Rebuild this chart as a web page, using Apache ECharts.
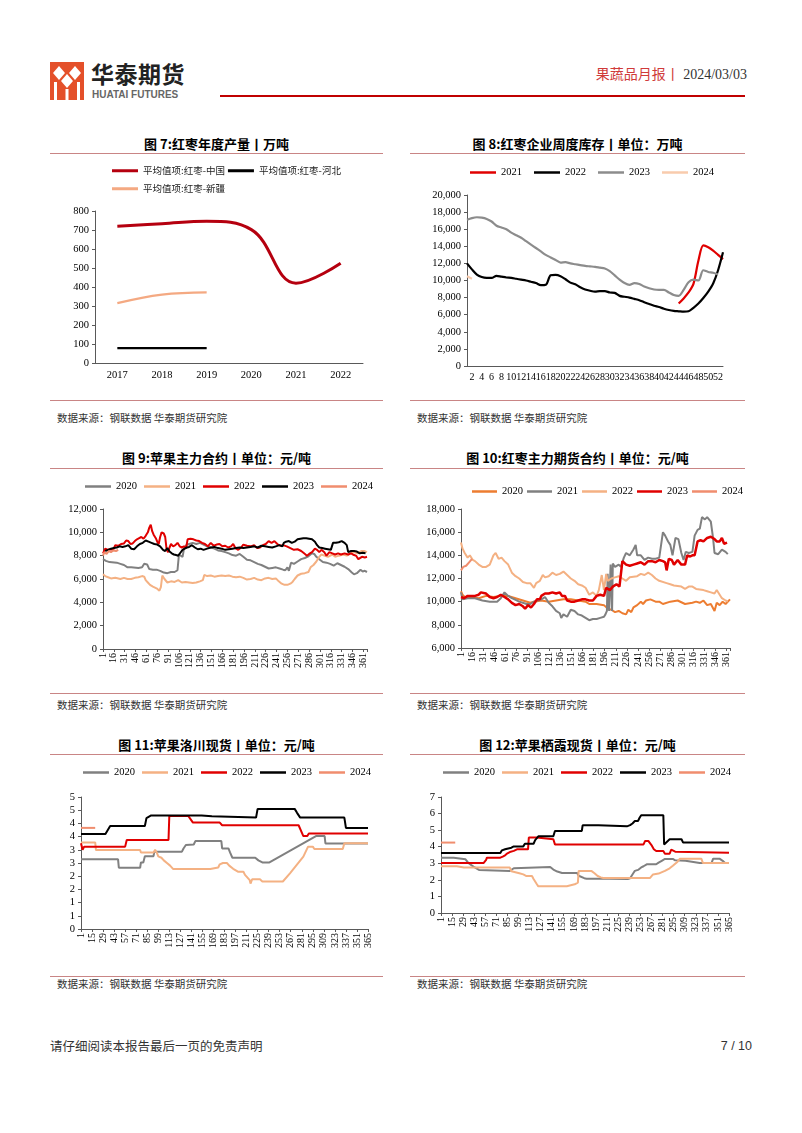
<!DOCTYPE html>
<html><head><meta charset="utf-8">
<script src="https://cdn.jsdelivr.net/npm/echarts/dist/echarts.min.js"></script>
<style>
body{margin:0;width:802px;height:1133px;position:relative;background:#fff;font-family:'Noto Sans CJK SC',sans-serif;overflow:hidden}
.title{position:absolute;font-weight:bold;font-size:13px;color:#000;text-align:center;line-height:16px;width:335px}
.rule{position:absolute;height:1px;background:#c98585}
.src{position:absolute;font-size:10.5px;color:#333;line-height:14px}
.chart{position:absolute}
</style></head><body>
<!-- header -->
<svg style="position:absolute;left:50px;top:62px" width="34" height="38" viewBox="0 0 34 38">
 <rect x="0" y="0" width="34" height="38" fill="#e4502a"/>
 <polygon points="9,4 15,11 9,18 3,11" fill="#fff"/>
 <polygon points="25,4 31,11 25,18 19,11" fill="#fff"/>
 <polygon points="17,12 23,19 17,26 11,19" fill="#fff"/>
 <rect x="4" y="20" width="3" height="18" fill="#fff"/>
 <rect x="27" y="20" width="3" height="18" fill="#fff"/>
 <rect x="15.5" y="27" width="3" height="11" fill="#fff"/>
</svg>
<div style="position:absolute;left:91px;top:59px;font-size:23px;font-weight:bold;color:#222;letter-spacing:0.5px;line-height:28px">华泰期货</div>
<div style="position:absolute;left:92px;top:89px;font-size:10px;font-weight:bold;color:#666;font-family:'Liberation Sans',Arial,sans-serif;line-height:12px">HUATAI FUTURES</div>
<div style="position:absolute;left:220px;top:95px;width:525px;height:2px;background:#c00000"></div>
<div style="position:absolute;right:55px;top:64px;font-size:14px;line-height:18px;white-space:nowrap"><span style="color:#d03a3a">果蔬品月报丨</span><span style="color:#333;font-family:'Liberation Serif',serif"> 2024/03/03</span></div>

<!-- titles and rules -->
<div class="title" style="left:49px;top:136px">图 7:红枣年度产量丨万吨</div>
<div class="title" style="left:410px;top:136px">图 8:红枣企业周度库存丨单位：万吨</div>
<div class="rule" style="left:50px;top:153px;width:333px"></div>
<div class="rule" style="left:410px;top:153px;width:335px"></div>
<div class="rule" style="left:50px;top:400px;width:333px"></div>
<div class="rule" style="left:410px;top:400px;width:335px"></div>
<div class="src" style="left:57px;top:411px">数据来源：钢联数据 华泰期货研究院</div>
<div class="src" style="left:417px;top:411px">数据来源：钢联数据 华泰期货研究院</div>

<div class="title" style="left:49px;top:450px">图 9:苹果主力合约丨单位：元/吨</div>
<div class="title" style="left:410px;top:450px">图 10:红枣主力期货合约丨单位：元/吨</div>
<div class="rule" style="left:50px;top:468px;width:333px"></div>
<div class="rule" style="left:410px;top:468px;width:335px"></div>
<div class="rule" style="left:50px;top:693px;width:333px"></div>
<div class="rule" style="left:410px;top:693px;width:335px"></div>
<div class="src" style="left:57px;top:698px">数据来源：钢联数据 华泰期货研究院</div>
<div class="src" style="left:417px;top:698px">数据来源：钢联数据 华泰期货研究院</div>

<div class="title" style="left:49px;top:737px">图 11:苹果洛川现货丨单位：元/吨</div>
<div class="title" style="left:410px;top:737px">图 12:苹果栖霞现货丨单位：元/吨</div>
<div class="rule" style="left:50px;top:754px;width:333px"></div>
<div class="rule" style="left:410px;top:754px;width:335px"></div>
<div class="rule" style="left:50px;top:976px;width:333px"></div>
<div class="rule" style="left:410px;top:976px;width:335px"></div>
<div class="src" style="left:57px;top:977px">数据来源：钢联数据 华泰期货研究院</div>
<div class="src" style="left:417px;top:977px">数据来源：钢联数据 华泰期货研究院</div>

<div style="position:absolute;left:50px;top:1038px;font-size:12.5px;color:#333;line-height:16px">请仔细阅读本报告最后一页的免责声明</div>
<div style="position:absolute;right:50px;top:1038px;font-size:12.5px;color:#333;line-height:16px;font-family:'Liberation Sans',sans-serif">7 / 10</div>

<div id="c7" class="chart" style="left:50px;top:158px;width:333px;height:235px"></div>
<div id="c8" class="chart" style="left:410px;top:158px;width:335px;height:235px"></div>
<div id="c9" class="chart" style="left:50px;top:472px;width:333px;height:218px"></div>
<div id="c10" class="chart" style="left:410px;top:472px;width:335px;height:218px"></div>
<div id="c11" class="chart" style="left:50px;top:758px;width:333px;height:215px"></div>
<div id="c12" class="chart" style="left:410px;top:758px;width:335px;height:215px"></div>

<script>
// ---------- DATA ----------
// Fig 7
const c7Years = ['2017','2018','2019','2020','2021','2022'];
const c7China = [720, 733, 746, 702, 420, 525];
const c7Hebei = [78, 78, 78, null, null, null];
const c7Xinjiang = [315, 360, 372, null, null, null];

// Fig 8 (weeks 1..53)
const c8Weeks = Array.from({length:53}, (_, i) => String(i + 1));
const c8_2021 = [null,null,null,null,null,null,null,null,null,null,null,null,null,null,null,null,null,null,null,null,null,null,null,null,null,null,null,null,null,null,null,null,null,null,null,null,null,null,null,null,null,null,null,7300,7900,8600,9600,12300,14100,13900,13500,13000,12500];
const c8_2022 = [12000,11300,10700,10400,10300,10300,10550,10450,10350,10300,10200,10100,10000,9850,9700,9450,9500,10600,10650,10500,10150,9750,9550,9200,8950,8800,8700,8750,8750,8600,8550,8200,8100,8000,7850,7700,7450,7250,7050,6900,6700,6550,6450,6400,6350,6400,6800,7300,7950,8700,9650,11200,13300];
const c8_2023 = [17100,17300,17400,17350,17200,16900,16400,16200,16000,15600,15300,15000,14600,14200,13800,13400,13000,12700,12400,12100,12150,12000,11900,11800,11700,11650,11600,11500,11400,11100,10600,10100,9700,9500,9700,9600,9300,9100,8950,8900,8900,8600,8300,8200,8900,9800,10100,10000,11200,11000,10900,10700,null];
const c8_2024 = [10500,10200];

// Fig 9 [day, value]
const c9_2020 = [[1,7700],[5,7550],[10,7450],[20,7400],[25,7300],[30,7200],[35,7000],[40,7000],[50,6950],[55,7000],[58,7300],[62,7250],[65,6850],[70,6800],[75,6800],[80,6700],[85,6550],[90,6500],[95,6600],[100,6600],[104,6750],[106,8100],[108,8000],[111,7900],[113,8600],[116,8900],[120,9000],[125,9100],[130,9000],[135,9100],[140,8950],[145,8800],[150,8700],[155,8600],[160,8450],[165,8400],[170,8300],[175,8200],[180,8050],[185,8000],[190,8150],[195,7900],[200,7650],[205,7600],[210,7450],[215,7300],[220,7200],[225,7050],[230,6900],[235,6950],[240,7000],[245,6900],[250,6800],[253,6750],[256,7000],[258,6700],[261,7400],[265,7300],[270,7500],[275,7700],[280,7800],[285,7950],[290,8200],[293,8150],[296,7900],[300,7700],[305,7450],[310,7400],[315,7300],[320,7150],[325,7350],[330,7200],[335,7050],[340,6850],[345,6550],[348,6400],[352,6500],[357,6800],[360,6650],[363,6700],[366,6600]];
const c9_2021 = [[1,6400],[4,6250],[8,6150],[12,6050],[18,6100],[25,6000],[30,6100],[35,6000],[40,6000],[45,6100],[50,6150],[55,6250],[58,6200],[60,5900],[63,5700],[66,5500],[70,5350],[75,5200],[79,5000],[81,5300],[83,6300],[86,6000],[90,5700],[95,5800],[100,5750],[105,5900],[110,5700],[115,5750],[120,5700],[125,5650],[130,5700],[135,5800],[139,5900],[141,6350],[145,6250],[150,6300],[155,6200],[160,6250],[165,6300],[170,6250],[175,6300],[180,6200],[185,6150],[190,6200],[195,6100],[200,5950],[205,6000],[210,6100],[215,5950],[220,5900],[225,6050],[230,6100],[235,6000],[240,6050],[244,5800],[248,5600],[252,5500],[256,5500],[260,5600],[263,5750],[266,6000],[270,6300],[275,6450],[280,6500],[285,6600],[288,7000],[292,7200],[296,7500],[300,7900],[303,8100],[307,8000],[312,7900],[318,8100],[322,7900],[327,8000],[333,8100],[338,8000],[343,8200],[348,8300],[353,8200],[358,8400],[362,8400],[366,8300]];
const c9_2022 = [[1,8200],[4,8600],[8,8500],[12,8550],[15,8500],[18,8900],[22,8850],[26,9000],[30,9050],[33,9300],[36,9250],[39,9000],[42,9050],[45,9250],[48,9400],[51,9500],[54,9600],[57,9450],[60,9700],[63,10000],[65,10400],[67,10650],[69,10100],[71,9800],[74,9500],[76,9200],[78,9000],[80,9600],[82,10000],[85,9900],[87,9600],[89,8500],[91,8300],[93,8700],[95,9000],[98,8800],[101,8900],[104,9100],[107,8800],[110,8700],[113,8800],[116,8700],[118,9400],[122,9450],[126,9400],[130,9300],[134,9250],[138,9100],[142,9000],[146,8800],[150,9100],[154,8850],[158,8950],[162,9000],[166,8800],[170,8850],[174,8700],[178,8800],[181,9000],[184,8650],[188,8500],[192,8700],[195,8950],[200,8850],[205,8800],[210,8900],[214,8650],[218,8700],[222,8900],[226,9000],[230,9250],[234,9100],[238,9250],[242,9000],[246,8850],[250,8900],[255,8800],[260,8650],[265,8500],[270,8550],[275,8400],[279,8200],[283,8000],[286,8150],[290,8300],[294,8600],[297,8500],[300,8300],[303,8500],[307,8300],[310,8000],[314,8300],[318,8200],[322,8100],[326,8200],[330,8100],[335,8200],[340,8100],[344,8200],[348,8050],[351,8000],[354,7700],[356,7600],[359,7900],[363,7850],[366,7900]];
const c9_2023 = [[4,8400],[8,8500],[12,8600],[16,8650],[20,8700],[24,8800],[28,8750],[32,8800],[36,8900],[40,8600],[44,8550],[48,8800],[52,9000],[56,9100],[60,9300],[64,9200],[68,9100],[72,9000],[76,8950],[80,8800],[84,8500],[87,8400],[90,8650],[93,8350],[96,8200],[99,8100],[102,8050],[105,8000],[108,8250],[111,8500],[114,8600],[117,8700],[120,8750],[124,8900],[128,8700],[132,8550],[136,8600],[140,8500],[145,8600],[150,8700],[155,8750],[160,8650],[165,8600],[170,8500],[175,8550],[180,8600],[185,8650],[190,8700],[195,8650],[200,8700],[205,8750],[210,8800],[215,8700],[220,8850],[225,8800],[230,8750],[235,8700],[240,8800],[245,8900],[249,8800],[251,9100],[254,9200],[258,9250],[262,9100],[266,9200],[270,9400],[274,9450],[278,9500],[282,9500],[286,9450],[290,9400],[294,9200],[297,8900],[300,8700],[304,8650],[308,8600],[312,8550],[316,8500],[319,9100],[323,9100],[327,9150],[331,9250],[335,9100],[338,8900],[340,8300],[344,8400],[348,8400],[352,8350],[356,8200],[360,8250],[364,8200]];
const c9_2024 = [[1,8000],[3,8300],[6,8150],[9,8400],[12,8300],[15,8450],[19,8400],[22,8500]];

// Fig 10 [day, value]
const c10_2020 = [[1,10900],[3,10600],[6,10400],[15,10400],[25,10300],[35,10500],[45,10400],[55,10500],[65,10500],[75,10300],[85,10100],[95,9900],[100,10000],[110,10100],[120,10000],[130,10100],[140,10200],[150,10200],[160,10100],[170,10000],[175,9800],[185,9800],[195,9700],[200,9400],[205,9300],[210,9100],[215,9200],[220,9000],[225,8900],[228,9300],[232,9100],[235,9500],[240,9700],[245,10000],[248,9800],[252,10100],[258,10200],[265,10000],[270,10000],[275,9800],[285,10000],[295,10100],[305,9800],[315,9900],[320,10000],[325,9900],[330,10100],[335,9700],[340,9800],[345,9200],[348,9900],[352,9700],[356,10000],[360,9800],[366,10200]];
const c10_2021 = [[1,10800],[3,10200],[10,10300],[20,10300],[30,10100],[40,10000],[50,10000],[55,10300],[60,10800],[65,10500],[70,10300],[80,10000],[90,9800],[95,9800],[100,10000],[110,10200],[115,10400],[120,9900],[125,9600],[130,9200],[135,9000],[137,8600],[140,8900],[145,8700],[150,9300],[155,9200],[160,8900],[165,8800],[170,8600],[175,8400],[180,8500],[185,8500],[190,8600],[195,8700],[197,8900],[199,9200],[200,12400],[202,9200],[204,13200],[206,9200],[207,13300],[210,13000],[215,13200],[218,13000],[222,13800],[225,14200],[230,14000],[235,14500],[238,14900],[240,14000],[245,14000],[250,13600],[255,13800],[260,13700],[265,13700],[270,13800],[275,16000],[278,15700],[282,15200],[285,14900],[288,14000],[290,14000],[292,15500],[296,15400],[300,14200],[303,13600],[306,14300],[310,14200],[315,14300],[318,15700],[322,16200],[325,16300],[328,17300],[332,17100],[335,17300],[340,16900],[343,15500],[345,14200],[350,14100],[355,14500],[360,14300],[363,14100]];
const c10_2022 = [[1,15100],[3,14600],[6,14200],[10,13800],[13,14000],[17,13600],[20,13500],[25,13200],[30,13000],[35,13000],[40,13200],[45,14000],[48,14200],[52,13700],[56,13800],[60,13500],[65,13200],[70,12500],[75,12200],[80,12000],[85,11700],[90,11600],[95,11600],[100,11200],[103,11600],[108,11800],[112,12300],[115,12100],[120,12200],[125,12500],[130,12300],[135,12400],[140,12600],[145,12300],[150,12000],[155,11800],[160,11500],[165,11400],[170,11200],[175,10600],[180,10800],[185,10500],[188,11000],[192,12300],[195,11000],[198,12400],[200,11800],[205,12000],[210,12100],[215,12200],[220,12000],[225,11800],[230,12100],[240,12200],[245,12400],[250,12300],[255,12500],[260,12300],[265,12000],[270,11800],[280,11600],[285,11500],[290,11400],[300,11300],[305,11100],[310,11300],[315,11300],[320,11100],[330,11000],[335,10900],[340,10800],[345,10700],[348,11000],[352,10600],[355,10300],[360,10100],[363,10000]];
const c10_2023 = [[1,10400],[5,10300],[10,10500],[20,10500],[25,10600],[28,10800],[35,10700],[40,10400],[45,10300],[50,10400],[55,10600],[60,10400],[65,10200],[70,9900],[75,9700],[80,9800],[85,9600],[88,9400],[92,9700],[96,9500],[100,9800],[104,10200],[108,10200],[110,10500],[115,10700],[120,10700],[125,10800],[130,10700],[135,10800],[138,10500],[142,10500],[145,10100],[150,10000],[155,10000],[160,10100],[165,10200],[170,10200],[175,10100],[180,10100],[185,10500],[190,10600],[195,10500],[198,11200],[203,11000],[207,11300],[212,11500],[216,11300],[218,11400],[220,13500],[225,13200],[230,13100],[235,13200],[240,13300],[245,13400],[250,13200],[255,13500],[260,13500],[265,13400],[270,13600],[275,13500],[278,13400],[280,12700],[283,13700],[287,13600],[290,13200],[295,13600],[300,13200],[305,13200],[308,14000],[312,13900],[315,14000],[318,14000],[322,15200],[326,15300],[330,15200],[335,15500],[340,15600],[345,15400],[348,15200],[352,15200],[355,15500],[358,15000],[362,15100]];
const c10_2024 = [[1,12700],[4,13000],[8,13100],[12,13400],[16,13700]];

// Fig 11 [day, value]
const c11_2020 = [[1,2.64],[48,2.64],[49,2.32],[76,2.32],[77,2.52],[80,2.52],[82,2.76],[93,2.76],[94,2.93],[129,2.93],[131,3.05],[134,3.18],[144,3.2],[146,3.33],[179,3.33],[180,3.05],[188,3.05],[190,2.9],[193,2.7],[222,2.7],[226,2.6],[231,2.52],[240,2.52],[299,3.52],[310,3.52],[311,3.24],[365,3.24]];
const c11_2021 = [[1,3.28],[19,3.28],[20,2.99],[76,2.99],[77,2.9],[93,2.9],[95,3.0],[97,2.9],[99,2.75],[103,2.7],[106,2.6],[110,2.5],[114,2.4],[118,2.27],[165,2.27],[166,2.33],[175,2.33],[177,2.45],[181,2.5],[186,2.5],[189,2.4],[194,2.28],[200,2.17],[207,2.17],[209,2.05],[211,1.98],[215,1.85],[216,1.72],[218,1.88],[228,1.88],[231,1.8],[257,1.8],[266,2.11],[283,2.74],[289,3.12],[295,3.12],[297,3.03],[333,3.03],[335,3.25],[365,3.25]];
const c11_2022 = [[1,3.25],[3,3.0],[5,3.12],[57,3.12],[59,3.37],[112,3.37],[113,4.28],[137,4.28],[139,4.2],[143,4.03],[177,4.03],[180,3.93],[277,3.93],[283,3.52],[288,3.52],[290,3.62],[365,3.62]];
const c11_2023 = [[1,3.6],[32,3.6],[35,3.75],[38,3.9],[82,3.9],[84,4.2],[86,4.25],[90,4.3],[154,4.3],[156,4.27],[167,4.27],[169,4.22],[223,4.22],[225,4.55],[272,4.55],[275,4.4],[279,4.22],[335,4.22],[337,3.83],[365,3.83]];
const c11_2024 = [[1,3.83],[19,3.83]];

// Fig 12 [day, value]
const c12_2020 = [[1,3.34],[17,3.34],[19,3.24],[32,3.24],[36,3.0],[38,2.88],[42,2.8],[44,2.78],[49,2.6],[51,2.54],[88,2.54],[90,2.6],[93,2.7],[95,2.78],[139,2.78],[141,2.7],[143,2.62],[148,2.5],[154,2.41],[173,2.41],[175,2.25],[177,2.17],[182,2.1],[185,2.07],[214,2.07],[216,2.05],[237,2.05],[240,2.1],[242,2.12],[244,2.4],[246,2.54],[250,2.6],[254,2.75],[257,2.82],[259,2.9],[261,2.94],[273,2.94],[276,3.04],[280,3.15],[284,3.26],[294,3.26],[297,3.18],[310,3.15],[320,3.08],[328,3.02],[343,3.02],[345,3.28],[353,3.28],[357,3.15],[360,3.02]];
const c12_2021 = [[1,2.82],[21,2.82],[23,2.76],[30,2.74],[88,2.74],[90,2.52],[100,2.4],[105,2.33],[109,2.23],[116,2.23],[118,2.05],[120,1.93],[122,1.75],[124,1.61],[160,1.61],[162,1.73],[170,1.73],[172,1.83],[174,1.83],[175,2.54],[191,2.54],[195,2.4],[199,2.23],[203,2.15],[206,2.11],[265,2.11],[269,2.33],[276,2.38],[284,2.54],[290,2.7],[294,2.85],[300,3.1],[303,3.28],[330,3.28],[332,3.02],[365,3.02]];
const c12_2022 = [[1,3.02],[55,3.02],[58,3.2],[59,3.34],[76,3.34],[79,3.4],[82,3.48],[85,3.6],[88,3.68],[93,3.75],[97,3.84],[111,3.84],[112,4.55],[122,4.55],[124,4.45],[143,4.45],[145,4.14],[257,4.14],[259,4.35],[263,4.35],[267,4.1],[270,3.85],[273,3.74],[282,3.74],[284,3.58],[290,3.58],[292,3.82],[294,3.82],[297,3.7],[299,3.64],[365,3.64]];
const c12_2023 = [[1,3.62],[76,3.62],[78,3.78],[82,3.85],[84,3.94],[90,3.94],[93,4.02],[105,4.02],[107,4.18],[118,4.18],[120,4.4],[124,4.63],[143,4.63],[145,4.95],[179,4.95],[180,5.29],[200,5.29],[201,5.23],[236,5.23],[240,5.3],[243,5.4],[246,5.55],[250,5.55],[252,5.75],[254,5.9],[282,5.9],[283,4.14],[285,4.14],[290,4.45],[305,4.45],[307,4.25],[365,4.25]];
const c12_2024 = [[1,4.25],[19,4.25]];

// ---------- RENDER ----------
const SERIF = "'Liberation Serif','Times New Roman',serif";
const CJK = "'Noto Sans CJK SC',sans-serif";
const AX = '#595959';
const days = n => Array.from({length:n}, (_, i) => String(i + 1));
const toIdx = arr => arr.map(p => [p[0] - 1, p[1]]);
const fmtThousand = v => v.toLocaleString('en-US');

function xCat(cats, labelExtra, extra) {
  return Object.assign({
    type: 'category', data: cats, boundaryGap: false,
    axisLine: {lineStyle: {color: AX}},
    axisTick: {lineStyle: {color: AX}, length: 3},
    axisLabel: Object.assign({fontFamily: SERIF, fontSize: 10, color: '#000', rotate: 90, margin: 4,
      hideOverlap: false}, labelExtra || {}),
    splitLine: {show: false}
  }, extra || {});
}
function yVal(min, max, interval, fmt) {
  return {
    type: 'value', min: min, max: max, interval: interval,
    axisLine: {show: true, lineStyle: {color: AX}},
    axisTick: {show: true, lineStyle: {color: AX}, length: 3},
    axisLabel: {fontFamily: SERIF, fontSize: 10.5, color: '#000', margin: 6, formatter: fmt},
    splitLine: {show: false}
  };
}
function ln(name, data, color, width, extra) {
  return Object.assign({
    name: name, type: 'line', data: data, symbol: 'none', showSymbol: false,
    lineStyle: {color: color, width: width || 2}, itemStyle: {color: color},
    connectNulls: false, animation: false
  }, extra || {});
}
function legend(left, top, gap, names, iw) {
  return {left: left, top: top, width: 330, icon: 'rect', itemWidth: iw || 26, itemHeight: 2.5, itemGap: gap, padding: 0,
    data: names, textStyle: {fontFamily: SERIF, fontSize: 10.5, color: '#000'}};
}
function mk(id, opt) {
  const c = echarts.init(document.getElementById(id), null, {renderer: 'canvas'});
  opt.animation = false;
  c.setOption(opt);
}
// every 15th day label (1, 16, 31, ... 361)
const every15 = (v, i) => (i % 15 === 0 ? v : '');

// Fig 7
mk('c7', {
  legend: [
    {left: 62, top: 8, icon: 'rect', itemWidth: 26, itemHeight: 3, itemGap: 3, padding: 0, width: 300,
     data: ['平均值项:红枣-中国', '平均值项:红枣-河北'], textStyle: {fontFamily: CJK, fontSize: 9.5, color: '#222'}},
    {left: 62, top: 26, icon: 'rect', itemWidth: 26, itemHeight: 3, padding: 0,
     data: ['平均值项:红枣-新疆'], textStyle: {fontFamily: CJK, fontSize: 9.5, color: '#222'}}
  ],
  grid: {left: 45, right: 20, top: 53, bottom: 30},
  xAxis: {type: 'category', data: c7Years, boundaryGap: true,
    axisLine: {lineStyle: {color: AX}}, axisTick: {lineStyle: {color: AX}, length: 4},
    axisLabel: {fontFamily: SERIF, fontSize: 10.5, color: '#000', margin: 7}},
  yAxis: yVal(0, 800, 100),
  series: [
    ln('平均值项:红枣-中国', c7China, '#b5000f', 3, {smooth: 0.4}),
    ln('平均值项:红枣-河北', c7Hebei, '#000000', 2.2, {smooth: 0.4}),
    ln('平均值项:红枣-新疆', c7Xinjiang, '#f4a982', 2.2, {smooth: 0.4})
  ]
});

// Fig 8
mk('c8', {
  legend: legend(60, 9, 12, ['2021', '2022', '2023', '2024']),
  grid: {left: 57, right: 22, top: 37, bottom: 27},
  xAxis: xCat(c8Weeks, {fontSize: 10, rotate: 0, margin: 6, interval: 0,
      formatter: (v, i) => (i % 2 === 1 ? v : '')}, {axisTick: {show: false}}),
  yAxis: yVal(0, 20000, 2000, fmtThousand),
  series: [
    ln('2021', c8_2021, '#e00000', 2.2, {smooth: 0.3}),
    ln('2022', c8_2022, '#000000', 2.2, {smooth: 0.3}),
    ln('2023', c8_2023, '#8c8c8c', 2.2, {smooth: 0.3}),
    ln('2024', c8_2024, '#f8cbad', 2.2, {smooth: 0.3})
  ]
});

// Fig 9
mk('c9', {
  legend: legend(35, 9, 7, ['2020', '2021', '2022', '2023', '2024']),
  grid: {left: 53, right: 16, top: 37, bottom: 41},
  xAxis: xCat(days(366), {interval: 0, formatter: every15},
    {axisTick: {interval: 14, lineStyle: {color: AX}, length: 3}}),
  yAxis: yVal(0, 12000, 2000, fmtThousand),
  series: [
    ln('2020', toIdx(c9_2020), '#808080', 2),
    ln('2021', toIdx(c9_2021), '#f4b183', 2),
    ln('2022', toIdx(c9_2022), '#e00000', 2),
    ln('2023', toIdx(c9_2023), '#000000', 2),
    ln('2024', toIdx(c9_2024), '#f08d6e', 2)
  ]
});

// Fig 10
mk('c10', {
  legend: legend(62, 14, 4, ['2020', '2021', '2022', '2023', '2024'], 25),
  grid: {left: 51, right: 15, top: 37, bottom: 42},
  xAxis: xCat(days(366), {interval: 0, formatter: every15},
    {axisTick: {interval: 14, lineStyle: {color: AX}, length: 3}}),
  yAxis: yVal(6000, 18000, 2000, fmtThousand),
  series: [
    ln('2020', toIdx(c10_2020), '#ed7d31', 2),
    ln('2021', toIdx(c10_2021), '#808080', 2),
    ln('2022', toIdx(c10_2022), '#f4b183', 2),
    ln('2023', toIdx(c10_2023), '#e00000', 2.5),
    ln('2024', toIdx(c10_2024), '#f08d6e', 2)
  ]
});

// Fig 11
mk('c11', {
  legend: legend(33, 9, 7, ['2020', '2021', '2022', '2023', '2024']),
  grid: {left: 31, right: 15, top: 39, bottom: 44},
  xAxis: xCat(days(365), {interval: 13, showMinLabel: true, showMaxLabel: true}),
  yAxis: yVal(0, 5, 0.5, v => String(Math.round(v))),
  series: [
    ln('2020', toIdx(c11_2020), '#808080', 2),
    ln('2021', toIdx(c11_2021), '#f4b183', 2),
    ln('2022', toIdx(c11_2022), '#e00000', 2),
    ln('2023', toIdx(c11_2023), '#000000', 2),
    ln('2024', toIdx(c11_2024), '#f08d6e', 2)
  ]
});

// Fig 12
mk('c12', {
  legend: legend(33, 9, 7, ['2020', '2021', '2022', '2023', '2024']),
  grid: {left: 31, right: 16, top: 39, bottom: 60},
  xAxis: xCat(days(365), {interval: 13, showMinLabel: true, showMaxLabel: true}),
  yAxis: yVal(0, 7, 1),
  series: [
    ln('2020', toIdx(c12_2020), '#808080', 2),
    ln('2021', toIdx(c12_2021), '#f4b183', 2),
    ln('2022', toIdx(c12_2022), '#e00000', 2),
    ln('2023', toIdx(c12_2023), '#000000', 2),
    ln('2024', toIdx(c12_2024), '#f08d6e', 2)
  ]
});
</script>
</body></html>
